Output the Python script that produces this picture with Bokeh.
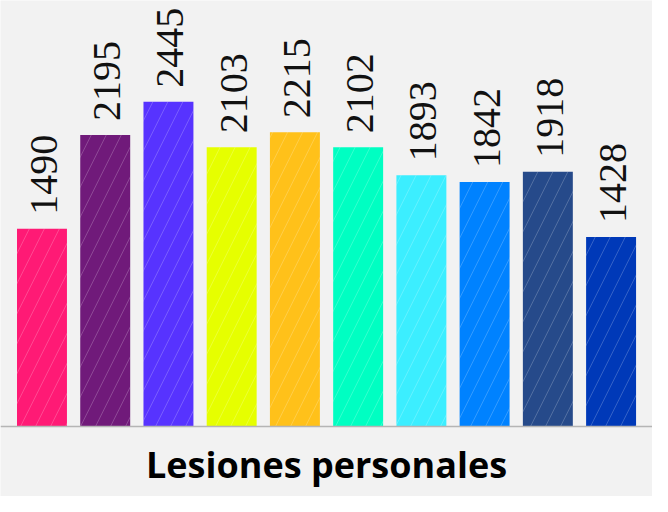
import math
from bokeh.plotting import figure
from bokeh.models import ColumnDataSource, Range1d, Span, Label
from bokeh.embed import file_html
from bokeh.resources import INLINE

# ---- data ----
values = [1490, 2195, 2445, 2103, 2215, 2102, 1893, 1842, 1918, 1428]
labels = [str(v) for v in values]
colors = ["#ff1a75", "#701a7a", "#5733ff", "#e6ff00", "#ffc11a",
          "#00ffc2", "#3ceeff", "#0082ff", "#264a8a", "#0039b8"]
title_text = "Lesiones personales"

W, H = 652, 496
BG = "#f2f2f2"

xs = list(range(len(values)))
src = ColumnDataSource(dict(x=xs, top=values, label=labels, color=colors))

p = figure(width=W, height=H, output_backend="svg", toolbar_location=None,
           x_range=Range1d(-0.656, 9.655), y_range=Range1d(-527, 3208),
           min_border=0, min_border_left=0, min_border_right=0,
           min_border_top=0, min_border_bottom=0)
p.background_fill_color = BG
p.border_fill_color = BG
p.outline_line_color = None
p.axis.visible = False
p.grid.visible = False

p.vbar(x="x", top="top", bottom=0, width=0.79, source=src,
       fill_color="color", line_color=None,
       hatch_pattern="/", hatch_color="white", hatch_alpha=0.2,
       hatch_scale=30, hatch_weight=1)

p.add_layout(Span(location=0, dimension="width", line_color="#b5b5b5",
                  line_width=1.5))

p.text(x="x", y="top", text="label", source=src, angle=math.pi / 2,
       text_align="left", text_baseline="middle", y_offset=-14, x_offset=2,
       text_font="Liberation Sans Narrow", text_font_size="40px",
       text_color="#111111")

p.add_layout(Label(x=W / 2, y=8, x_units="screen", y_units="screen",
                   text=title_text, text_align="center",
                   text_baseline="bottom", text_font="Open Sans",
                   text_font_style="bold", text_font_size="36px",
                   text_color="#000000"))

open("out.html", "w").write(file_html(p, INLINE))
